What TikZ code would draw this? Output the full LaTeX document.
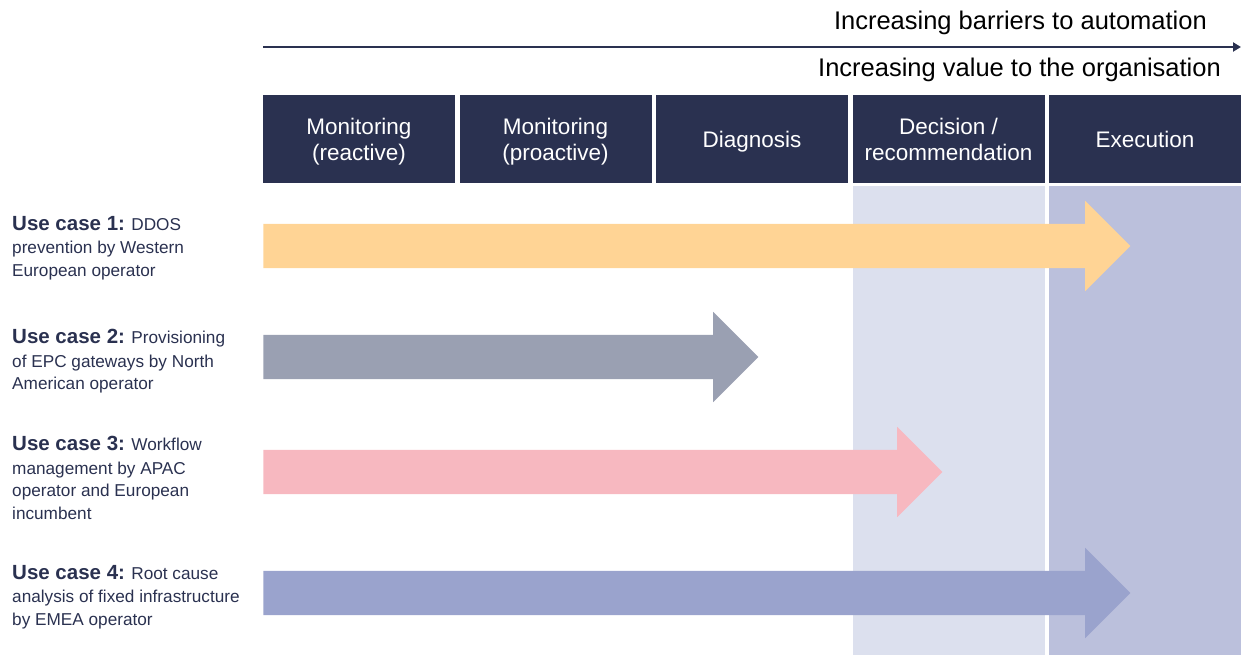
\documentclass[tikz,border=0pt]{standalone}
\usepackage{fontspec}
\setmainfont{Liberation Sans}
\usetikzlibrary{shapes.arrows,positioning,arrows.meta}
\definecolor{navy}{HTML}{2A3150}
\definecolor{bandlight}{HTML}{DCE0EE}
\definecolor{banddark}{HTML}{BBC0DC}
\definecolor{caseyellow}{HTML}{FFD495}
\definecolor{casegray}{HTML}{9AA0B2}
\definecolor{casepink}{HTML}{F7B8C0}
\definecolor{casepurple}{HTML}{9AA3CD}
\tikzstyle{stage} = [rectangle, fill=navy, text=white, minimum width=192pt,
minimum height=88pt, align=center, inner sep=0pt, text depth=0pt,
font=\fontsize{22.5}{26}\selectfont]
\tikzstyle{band} = [rectangle, minimum width=192pt, minimum height=469pt, inner sep=0pt]
\tikzstyle{usecase} = [single arrow, single arrow head extend=23pt,
single arrow tip angle=90, inner xsep=0pt, inner ysep=22pt, anchor=west]
\tikzstyle{caselabel} = [anchor=north west, align=left, text=navy, inner sep=0pt,
font=\fontsize{17.2}{22.5}\selectfont]
\tikzstyle{heading} = [anchor=east, inner sep=0pt, text=black, font=\fontsize{25.5}{30}\selectfont]
\tikzstyle{axis} = [line width=2pt, draw=navy, ->, >={Triangle[length=8pt,width=9pt]}]
\newcommand{\ucname}[1]{{\fontsize{20.5}{22}\selectfont\bfseries Use case #1:}}

\begin{document}
\begin{tikzpicture}[x=1pt, y=-1pt]
    \useasboundingbox (0,0) rectangle (1241,655);
    % stages
    \node (h1) [stage] at (359,139) {Monitoring\\(reactive)};
    \node (h2) [stage, right of= h1, node distance = 196.5pt] {Monitoring\\(proactive)};
    \node (h3) [stage, right of= h2, node distance = 196.5pt] {Diagnosis};
    \node (h4) [stage, right of= h3, node distance = 196.5pt] {Decision /\\recommendation};
    \node (h5) [stage, right of= h4, node distance = 196.5pt] {Execution};
    \node (bg4) [band, fill=bandlight, below=3pt of h4] {};
    \node (bg5) [band, fill=banddark, below=3pt of h5] {};
    % axis and headings
    \coordinate (axisstart) at (263,47);
    \coordinate (axisend) at (1241,47);
    \draw [axis] (axisstart) -- (axisend);
    \node (barriers) [heading] at (1207,23) {Increasing barriers to automation};
    \node (value) [heading] at (1221,70) {Increasing value to the organisation};
    % use cases
    \node (a1) [usecase, fill=caseyellow, minimum height=867pt] at (263,246) {};
    \node (a2) [usecase, fill=casegray, minimum height=495pt] at (263,357) {};
    \node (a3) [usecase, fill=casepink, minimum height=679pt] at (263,472) {};
    \node (a4) [usecase, fill=casepurple, minimum height=867pt] at (263,593) {};
    \node (l1) [caselabel] at (12,216) {\ucname{1} DDOS\\[1pt]prevention by Western\\European operator};
    \node (l2) [caselabel] at (12,329) {\ucname{2} Provisioning\\[1pt]of EPC gateways by North\\American operator};
    \node (l3) [caselabel] at (12,436) {\ucname{3} Workflow\\[1pt]management by APAC\\operator and European\\incumbent};
    \node (l4) [caselabel] at (12,565) {\ucname{4} Root cause\\[1pt]analysis of fixed infrastructure\\by EMEA operator};
\end{tikzpicture}
\end{document}
